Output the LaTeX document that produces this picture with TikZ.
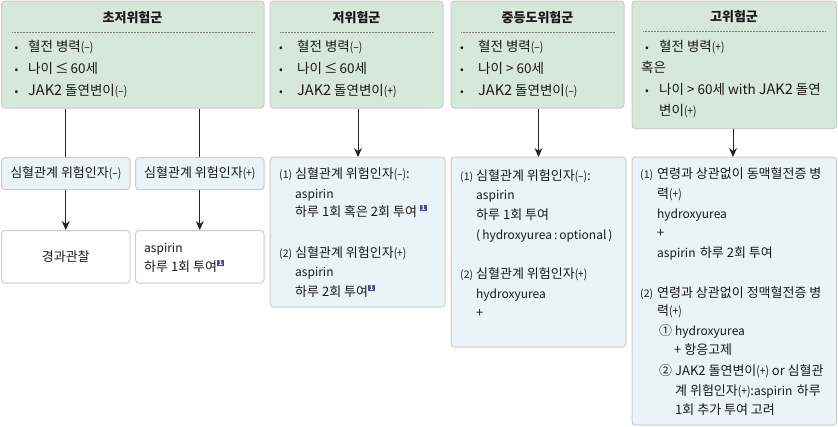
\documentclass[tikz,border=0pt]{standalone}
\usepackage{fontspec}
\setmainfont{Noto Sans CJK KR}
\usetikzlibrary{arrows.meta}
\definecolor{grn}{HTML}{D5E8D9}
\definecolor{blu}{HTML}{E9F3F8}
\definecolor{edgeg}{HTML}{C9CDCB}
\definecolor{refb}{HTML}{4A4A9C}
\newcounter{tlc}
\newcommand{\mnx}{\scalebox{0.85}[1]{\fontsize{12}{13}\selectfont(–)}}
\newcommand{\plx}{\scalebox{0.85}[1]{\fontsize{12}{13}\selectfont(+)}}
\newcommand{\rfx}{\raisebox{6pt}{\setlength{\fboxsep}{0.5pt}\colorbox{refb}{\makebox[6pt]{\textcolor{white}{\fontsize{6.5}{6.5}\selectfont\bfseries 1}}}}}
\newcommand{\lat}[1]{{\fontsize{12}{14}\selectfont #1}}
\newcommand{\jkx}{{\fontsize{14.5}{15}\selectfont JAK2}}
\tikzset{
  base/.style={rounded corners=3.5pt,draw=edgeg,line width=1pt,inner sep=0pt,align=center,font=\fontsize{13}{15}\selectfont,text=black!90},
  gbox/.style={base,fill=grn},
  bbox/.style={base,fill=blu},
  wbox/.style={base,fill=white},
  ln/.style={anchor=base west,inner sep=0pt,font=\fontsize{13}{15}\selectfont,text=black!90},
  lnb/.style={anchor=base west,inner sep=0pt,font=\fontsize{13.5}{15}\selectfont,text=black!90},
  ttl/.style={anchor=base,inner sep=0pt,font=\fontsize{13}{15}\selectfont\bfseries,text=black!90},
  sm/.style={anchor=base west,inner sep=0pt,font=\fontsize{10.5}{12}\selectfont,text=black!90},
  bul/.style={anchor=base west,inner sep=0pt,font=\fontsize{11}{12}\selectfont,text=black!90},
  rl/.style={draw=black!50,line width=0.5pt,densely dotted},
  con/.style={draw=black!85,line width=0.9pt},
  arr/.style={con,-{Stealth[length=9pt,width=8pt]}}
}
\newcommand{\bxx}[6]{\node[#2,minimum width={(#5-#3)*1pt},minimum height={(#6-#4)*1pt}] (#1) at ({(#3+#5)/2},{(#4+#6)/2}) {};}
\newcommand{\tln}[3]{\stepcounter{tlc}\node[ln] (t\arabic{tlc}) at (#1,{#2+4.6}) {#3};}
\newcommand{\tlb}[3]{\stepcounter{tlc}\node[lnb] (t\arabic{tlc}) at (#1,{#2+4.8}) {#3};}
\newcommand{\tbu}[2]{\stepcounter{tlc}\node[bul] (t\arabic{tlc}) at (#1,{#2+4.2}) {•};}
\newcommand{\tsm}[3]{\stepcounter{tlc}\node[sm] (t\arabic{tlc}) at (#1,{#2+4.6}) {#3};}
\newcommand{\ttx}[3]{\stepcounter{tlc}\node[ttl] (t\arabic{tlc}) at (#1,{#2+4.6}) {#3};}
\begin{document}
\begin{tikzpicture}[x=1pt,y=-1pt]
\useasboundingbox (0,0) rectangle (838,426);
\bxx{b1}{gbox}{1.5}{1}{264}{108}
\bxx{b2}{gbox}{270}{1}{443}{108}
\bxx{b3}{gbox}{451}{1}{624}{108}
\bxx{b4}{gbox}{632}{1}{836.5}{128.5}
\bxx{r1}{bbox}{1.5}{157.5}{130}{189.5}
\bxx{r2}{bbox}{135.5}{157.5}{264}{189.5}
\bxx{o1}{wbox}{1.5}{230.5}{130}{283}
\bxx{o2}{wbox}{135.5}{230.5}{264}{283}
\bxx{l2}{bbox}{270}{157}{445}{307}
\bxx{l3}{bbox}{451}{157}{626}{347}
\bxx{l4}{bbox}{632}{157}{836.5}{425}
% connectors
\draw[con] (b1.south -| r1.north) -- (r1.north);
\draw[con] (b1.south -| r2.north) -- (r2.north);
\draw[arr] (r1) -- (o1);
\draw[arr] (r2) -- (o2);
\coordinate (c2) at (358,157);
\coordinate (c3) at (538.5,157);
\coordinate (c4) at (733,157);
\draw[arr] (b2.south -| c2) -- (c2);
\draw[arr] (b3.south -| c3) -- (c3);
\draw[arr] (b4.south -| c4) -- (c4);
% rules
\draw[rl] (12,32.5) -- (254,32.5);
\draw[rl] (280,32.5) -- (434,32.5);
\draw[rl] (461,32.5) -- (615,32.5);
\draw[rl] (643,31.5) -- (826,31.5);
% titles
\ttx{132.5}{18}{초저위험군}
\ttx{356.5}{18}{저위험군}
\ttx{537.5}{18}{중등도위험군}
\ttx{734}{17}{고위험군}
% box 1
\tbu{14.5}{47}\tlb{28}{47}{혈전 병력\mnx}
\tbu{14.5}{69}\tlb{28}{69}{나이\hspace{2pt}≤\hspace{2pt}60세}
\tbu{14.5}{91}\tlb{28}{91}{\jkx{} 돌연변이\mnx}
% box 2
\tbu{279}{47}\tlb{297}{47}{혈전 병력\mnx}
\tbu{279}{69}\tlb{297}{69}{나이\hspace{2pt}≤\hspace{2pt}60세}
\tbu{279}{91}\tlb{297}{91}{\jkx{} 돌연변이\plx}
% box 3
\tbu{460}{47}\tlb{478}{47}{혈전 병력\mnx}
\tbu{460}{69}\tlb{478}{69}{나이 > 60세}
\tbu{460}{91}\tlb{478}{91}{\jkx{} 돌연변이\mnx}
% box 4
\tbu{645}{47}\tlb{659}{47}{혈전 병력\plx}
\tlb{641}{68}{혹은}
\tbu{645}{90}\tlb{659}{90}{나이 > 60세 with \jkx{} 돌연}
\tlb{659}{111}{변이\plx}
% risk row
\node[ln,anchor=center] (rt1) at (r1) {심혈관계 위험인자\mnx};
\node[ln,anchor=center] (rt2) at (r2) {심혈관계 위험인자\plx};
\node[ln,anchor=center] (ot1) at (o1) {경과관찰};
\tln{144}{248}{\lat{aspirin}}
\tln{144}{267}{하루 1회 투여\rfx}
% lower 2
\tsm{279}{174}{(1)}\tln{295}{174}{심혈관계 위험인자\mnx:}
\tln{295}{194}{\lat{aspirin}}
\tln{295}{212}{하루 1회 혹은 2회 투여 \rfx}
\tsm{279}{253}{(2)}\tln{295}{253}{심혈관계 위험인자\plx}
\tln{295}{272}{\lat{aspirin}}
\tln{295}{292}{하루 2회 투여\rfx}
% lower 3
\tsm{460}{176}{(1)}\tln{476}{176}{심혈관계 위험인자\mnx:}
\tln{476}{195}{\lat{aspirin}}
\tln{476}{215}{하루 1회 투여}
\tln{476}{235}{\lat{(\,hydroxyurea\,:\,optional\,)}}
\tsm{460}{274}{(2)}\tln{476}{274}{심혈관계 위험인자\plx}
\tln{476}{294}{\lat{hydroxyurea}}
\tln{476}{313}{+}
% lower 4
\tsm{640}{174}{(1)}\tln{657}{174}{연령과 상관없이 동맥혈전증 병}
\tln{657}{194}{력\plx}
\tln{657}{214}{\lat{hydroxyurea}}
\tln{657}{233}{+}
\tln{657}{253}{\lat{aspirin}\hspace{1.5pt} 하루 2회 투여}
\tsm{640}{293}{(2)}\tln{657}{293}{연령과 상관없이 정맥혈전증 병}
\tln{657}{311}{력\plx}
\tln{659}{331}{①}\tln{675}{331}{\lat{hydroxyurea}}
\tln{674}{350}{+ 항응고제}
\tln{659}{371}{②}\tln{675}{371}{JAK2 돌연변이\plx{} or 심혈관}
\tln{675}{391}{계 위험인자\plx:\lat{aspirin}\hspace{1.5pt} 하루}
\tln{675}{410}{1회 추가 투여 고려}
\end{tikzpicture}
\end{document}
